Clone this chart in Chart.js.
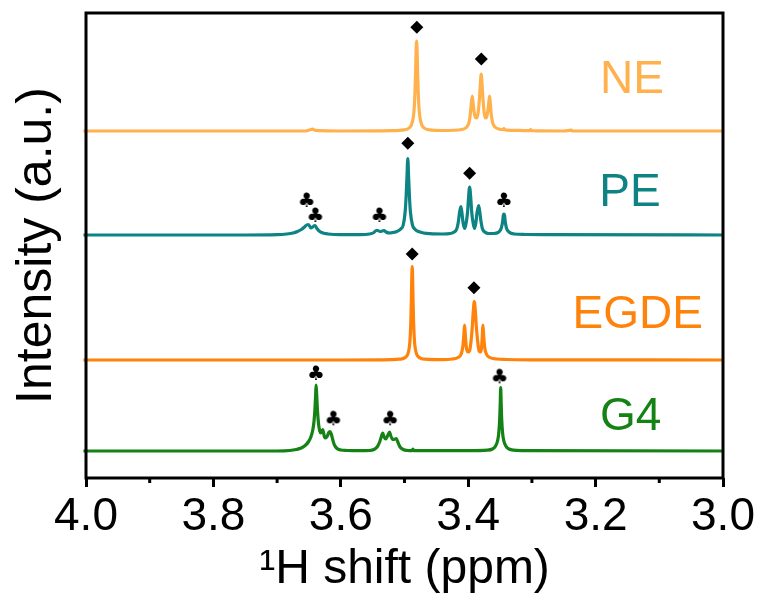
<!DOCTYPE html>
<html><head><meta charset="utf-8">
<script src="https://cdn.jsdelivr.net/npm/chart.js@4.4.1/dist/chart.umd.min.js"></script>
<style>html,body{margin:0;padding:0;background:#fff;}canvas{display:block;}</style>
</head><body>
<canvas id="c" width="760" height="599" style="width:760px;height:599px"></canvas>
<script>
// ---- data (x: 1H shift in ppm, y: stacked intensity, a.u.) ----
const seriesNames = ['NE', 'PE', 'EGDE', 'G4'];

const neShift = [4.004, 3.700, 3.655, 3.648, 3.644, 3.640, 3.600, 3.520, 3.501, 3.493, 3.489, 3.486, 3.4845, 3.4835, 3.4825, 3.4818, 3.4810, 3.4802, 3.4795, 3.4785, 3.4775, 3.4760, 3.4730, 3.4690, 3.4610, 3.440, 3.410, 3.403, 3.399, 3.397, 3.3955, 3.3936, 3.3920, 3.3905, 3.3886, 3.3866, 3.3845, 3.3825, 3.3810, 3.3796, 3.3782, 3.3767, 3.3748, 3.3730, 3.3710, 3.3690, 3.3676, 3.3664, 3.3650, 3.3635, 3.3615, 3.358, 3.352, 3.345, 3.344, 3.342, 3.320, 3.303, 3.302, 3.300, 3.250, 3.238, 3.236, 3.000];
const neSignal = [347, 347, 347, 348.3, 348.8, 347.6, 347, 347.3, 348.1, 349.9, 353.3, 361.6, 372.5, 386.3, 408.4, 426.5, 437, 426.5, 408.4, 386.3, 372.5, 361.6, 353.3, 349.9, 348.1, 347.5, 348.5, 350.5, 355, 362, 372, 382, 373, 365, 360.5, 360, 365, 378, 393, 404, 393, 378, 365, 360, 361, 368, 376, 382, 372, 362, 355, 351, 349, 348.4, 349.3, 348.2, 347.6, 347.3, 348.3, 347.3, 347, 347.9, 347, 347];

const peShift = [4.004, 3.750, 3.700, 3.685, 3.675, 3.668, 3.662, 3.657, 3.6535, 3.6510, 3.6490, 3.6470, 3.6450, 3.6425, 3.6405, 3.6380, 3.6340, 3.6280, 3.6200, 3.600, 3.570, 3.555, 3.548, 3.5445, 3.5420, 3.5385, 3.5350, 3.5320, 3.5290, 3.5240, 3.5180, 3.5120, 3.5060, 3.5020, 3.4990, 3.4975, 3.4962, 3.4948, 3.4935, 3.4922, 3.4907, 3.4875, 3.4840, 3.4780, 3.4700, 3.4600, 3.4400, 3.4280, 3.4220, 3.4180, 3.4155, 3.4135, 3.4115, 3.4098, 3.4080, 3.4055, 3.4035, 3.4010, 3.3995, 3.3978, 3.3960, 3.3945, 3.3920, 3.3900, 3.3880, 3.3860, 3.3836, 3.3818, 3.3798, 3.3775, 3.3740, 3.3680, 3.3600, 3.3520, 3.3480, 3.3458, 3.3448, 3.3439, 3.3430, 3.3420, 3.3400, 3.3360, 3.3280, 3.3100, 3.2800, 3.0000];
const peSignal = [243, 243, 243.3, 244, 245, 246.5, 248.5, 251, 253, 253.5, 252, 250, 250.5, 252, 252.5, 250, 247, 245, 244, 243.3, 243.3, 244, 245.5, 247.5, 247.5, 246.5, 247, 247.5, 246, 245, 245.5, 246.5, 249, 253, 266, 281, 300, 319.5, 300, 281, 266, 253, 249, 246.5, 245, 244.3, 244, 244.5, 246, 249, 256, 266, 271.5, 265, 255, 249.5, 254, 266, 280, 291, 280, 266, 254, 249.5, 255, 266, 272.5, 266, 256, 249, 246, 244.5, 244.5, 246, 250, 257, 263, 264, 263, 257, 250, 246, 244, 243.5, 243.3, 243];

const egdeShift = [4.004, 3.600, 3.520, 3.5079, 3.4999, 3.4949, 3.4924, 3.4911, 3.4901, 3.4893, 3.4886, 3.4879, 3.4872, 3.4865, 3.4857, 3.4847, 3.4834, 3.4809, 3.4759, 3.4679, 3.440, 3.425, 3.416, 3.411, 3.4085, 3.4068, 3.4057, 3.4045, 3.4030, 3.4005, 3.3980, 3.3955, 3.3935, 3.3920, 3.3904, 3.3888, 3.3873, 3.3852, 3.3828, 3.3805, 3.3788, 3.3778, 3.3769, 3.3758, 3.3742, 3.3715, 3.366, 3.355, 3.340, 3.300, 3.000];
const egdeSignal = [118, 118, 118.3, 118.8, 120.1, 123.8, 130.9, 140.5, 155.6, 176.3, 199.2, 211.5, 199.2, 176.3, 155.6, 140.5, 130.9, 123.8, 120.1, 118.8, 118.3, 119, 120.5, 124, 131, 143, 153, 143, 131, 126, 127, 137, 152, 167, 176.5, 167, 152, 137, 127, 126, 132, 143, 153, 143, 131, 124, 120.5, 119, 118.5, 118.2, 118];

const g4Shift = [4.004, 3.700, 3.680, 3.670, 3.662, 3.656, 3.651, 3.647, 3.644, 3.642, 3.6405, 3.6395, 3.6388, 3.6380, 3.6370, 3.6358, 3.6345, 3.6330, 3.6315, 3.6300, 3.6285, 3.6270, 3.6255, 3.6235, 3.6220, 3.6205, 3.6190, 3.6170, 3.6150, 3.6125, 3.6100, 3.6060, 3.6000, 3.5900, 3.5700, 3.5550, 3.5480, 3.5430, 3.5390, 3.5365, 3.5342, 3.5320, 3.5295, 3.5270, 3.5236, 3.5215, 3.5190, 3.5165, 3.5130, 3.5105, 3.5070, 3.5020, 3.4950, 3.4880, 3.4868, 3.4855, 3.4000, 3.3700, 3.3620, 3.3570, 3.3540, 3.3520, 3.3505, 3.3497, 3.3490, 3.3483, 3.3475, 3.3460, 3.3440, 3.3410, 3.3360, 3.3280, 3.3100, 3.0000];
const g4Signal = [27, 27, 27.5, 28.5, 30, 32.5, 36, 41, 48, 57, 70, 83, 93, 85, 72, 60, 52, 47, 45, 46, 48.5, 45, 41, 40, 41, 43, 45.5, 46.5, 44, 38, 33, 29.5, 28, 27.5, 27.3, 27.5, 28.5, 31, 36, 41, 45, 41, 39, 41.5, 46, 42, 39, 38.5, 39.5, 36, 31, 28.5, 27.5, 27.3, 29, 27.3, 27.3, 27.8, 29, 32, 37, 45, 60, 75, 90.5, 76, 60, 45, 37, 32, 29, 27.8, 27.3, 27];

// peak assignment markers
const diamondShift = [3.4807, 3.3794, 3.4948, 3.3978, 3.4879, 3.3910];
const diamondLevel = [450.7, 419, 334.7, 304.7, 224, 190.3];
const clubShift = [3.6536, 3.6399, 3.5393, 3.3439, 3.6390, 3.6116, 3.5225, 3.3507];
const clubLevel = [277, 262, 262, 277, 104, 58.7, 58.7, 100.7];

// axis ticks
const xTickValues = [4.0, 3.8, 3.6, 3.4, 3.2, 3.0];
const xTickLabels = ['4.0', '3.8', '3.6', '3.4', '3.2', '3.0'];
const xMinorTicks = [3.9, 3.7, 3.5, 3.3, 3.1];

// ---- styles ----
const seriesColors = ['#FFB14E', '#0E8383', '#FF820A', '#148214'];
const FONT = '"Liberation Sans", Arial, Helvetica, sans-serif';

function pts(xs, ys) {
  const n = Math.min(xs.length, ys.length);
  const out = [];
  for (let i = 0; i < n; i++) out.push({x: xs[i], y: ys[i]});
  return out;
}
function glyph(ch, size, w, h, dy) {
  const c = document.createElement('canvas');
  c.width = w; c.height = h;
  const g = c.getContext('2d');
  g.fillStyle = '#000';
  g.font = 'bold ' + size + 'px "DejaVu Sans", sans-serif';
  g.textAlign = 'center';
  g.textBaseline = 'middle';
  g.fillText(ch, w / 2, h / 2 + dy);
  return c;
}
const clubImg = glyph('\u2663', 20, 24, 24, 1);

const traces = [
  [neShift, neSignal], [peShift, peSignal], [egdeShift, egdeSignal], [g4Shift, g4Signal]
].map((s, i) => ({
  label: seriesNames[i],
  data: pts(s[0], s[1]),
  showLine: true,
  borderColor: seriesColors[i],
  backgroundColor: seriesColors[i],
  borderWidth: 3.2,
  pointRadius: 0,
  cubicInterpolationMode: 'monotone',
  clip: false,
  order: 2
}));

const framePlugin = {
  id: 'frame',
  afterDraw(chart, args, opts) {
    const {ctx, chartArea: a, scales: {x, y}} = chart;
    ctx.save();
    ctx.font = opts.labelSize + 'px ' + FONT;
    ctx.textAlign = 'center';
    ctx.textBaseline = 'middle';
    seriesNames.forEach((n, i) => {
      ctx.fillStyle = seriesColors[i];
      ctx.fillText(n, x.getPixelForValue(opts.labelShift[i]), y.getPixelForValue(opts.labelLevel[i]));
    });
    ctx.strokeStyle = '#000';
    ctx.lineWidth = 3;
    xMinorTicks.forEach(v => {
      const px = x.getPixelForValue(v);
      ctx.beginPath(); ctx.moveTo(px, a.bottom); ctx.lineTo(px, a.bottom + 5); ctx.stroke();
    });
    ctx.strokeRect(a.left, a.top, a.right - a.left, a.bottom - a.top);
    ctx.restore();
  }
};

new Chart(document.getElementById('c'), {
  type: 'scatter',
  data: {
    datasets: traces.concat([
      {
        label: 'diamond', data: pts(diamondShift, diamondLevel),
        pointStyle: 'rectRot', pointRadius: 6.5, backgroundColor: '#000', borderColor: '#000', borderWidth: 0, order: 1
      },
      {
        label: 'club', data: pts(clubShift, clubLevel),
        pointStyle: clubImg, pointRadius: 9, order: 1
      }
    ])
  },
  options: {
    responsive: false,
    animation: false,
    devicePixelRatio: 1,
    layout: {padding: {top: 13, right: 37, left: 0, bottom: 0}},
    plugins: {
      legend: {display: false},
      tooltip: {enabled: false},
      frame: {
        labelSize: 46,
        labelShift: [3.143, 3.146, 3.134, 3.145],
        labelLevel: [398, 285, 163, 61]
      }
    },
    scales: {
      x: {
        type: 'linear', min: 3.0, max: 4.0, reverse: true,
        afterBuildTicks: s => { s.ticks = xTickValues.map(v => ({value: v})); },
        afterFit: s => { s.height = 121; },
        ticks: {
          color: '#000', padding: 3,
          font: {family: FONT, size: 46},
          callback: (v) => xTickLabels[xTickValues.findIndex(t => Math.abs(t - v) < 1e-6)],
          maxRotation: 0, autoSkip: false
        },
        grid: {display: true, drawOnChartArea: false, drawTicks: true, tickLength: 9, tickWidth: 3, tickColor: '#000'},
        border: {display: false},
        title: {display: true, text: '\u00B9H shift (ppm)', color: '#000', font: {family: FONT, size: 48}, padding: {top: 0, bottom: 0}}
      },
      y: {
        type: 'linear', min: 0, max: 465,
        afterFit: s => { s.width = 86; },
        ticks: {display: false},
        grid: {display: false},
        border: {display: false},
        title: {display: true, text: 'Intensity (a.u.)', color: '#000', font: {family: FONT, size: 50}, padding: {top: 7, bottom: 0}}
      }
    }
  },
  plugins: [framePlugin]
});
</script>
</body></html>
